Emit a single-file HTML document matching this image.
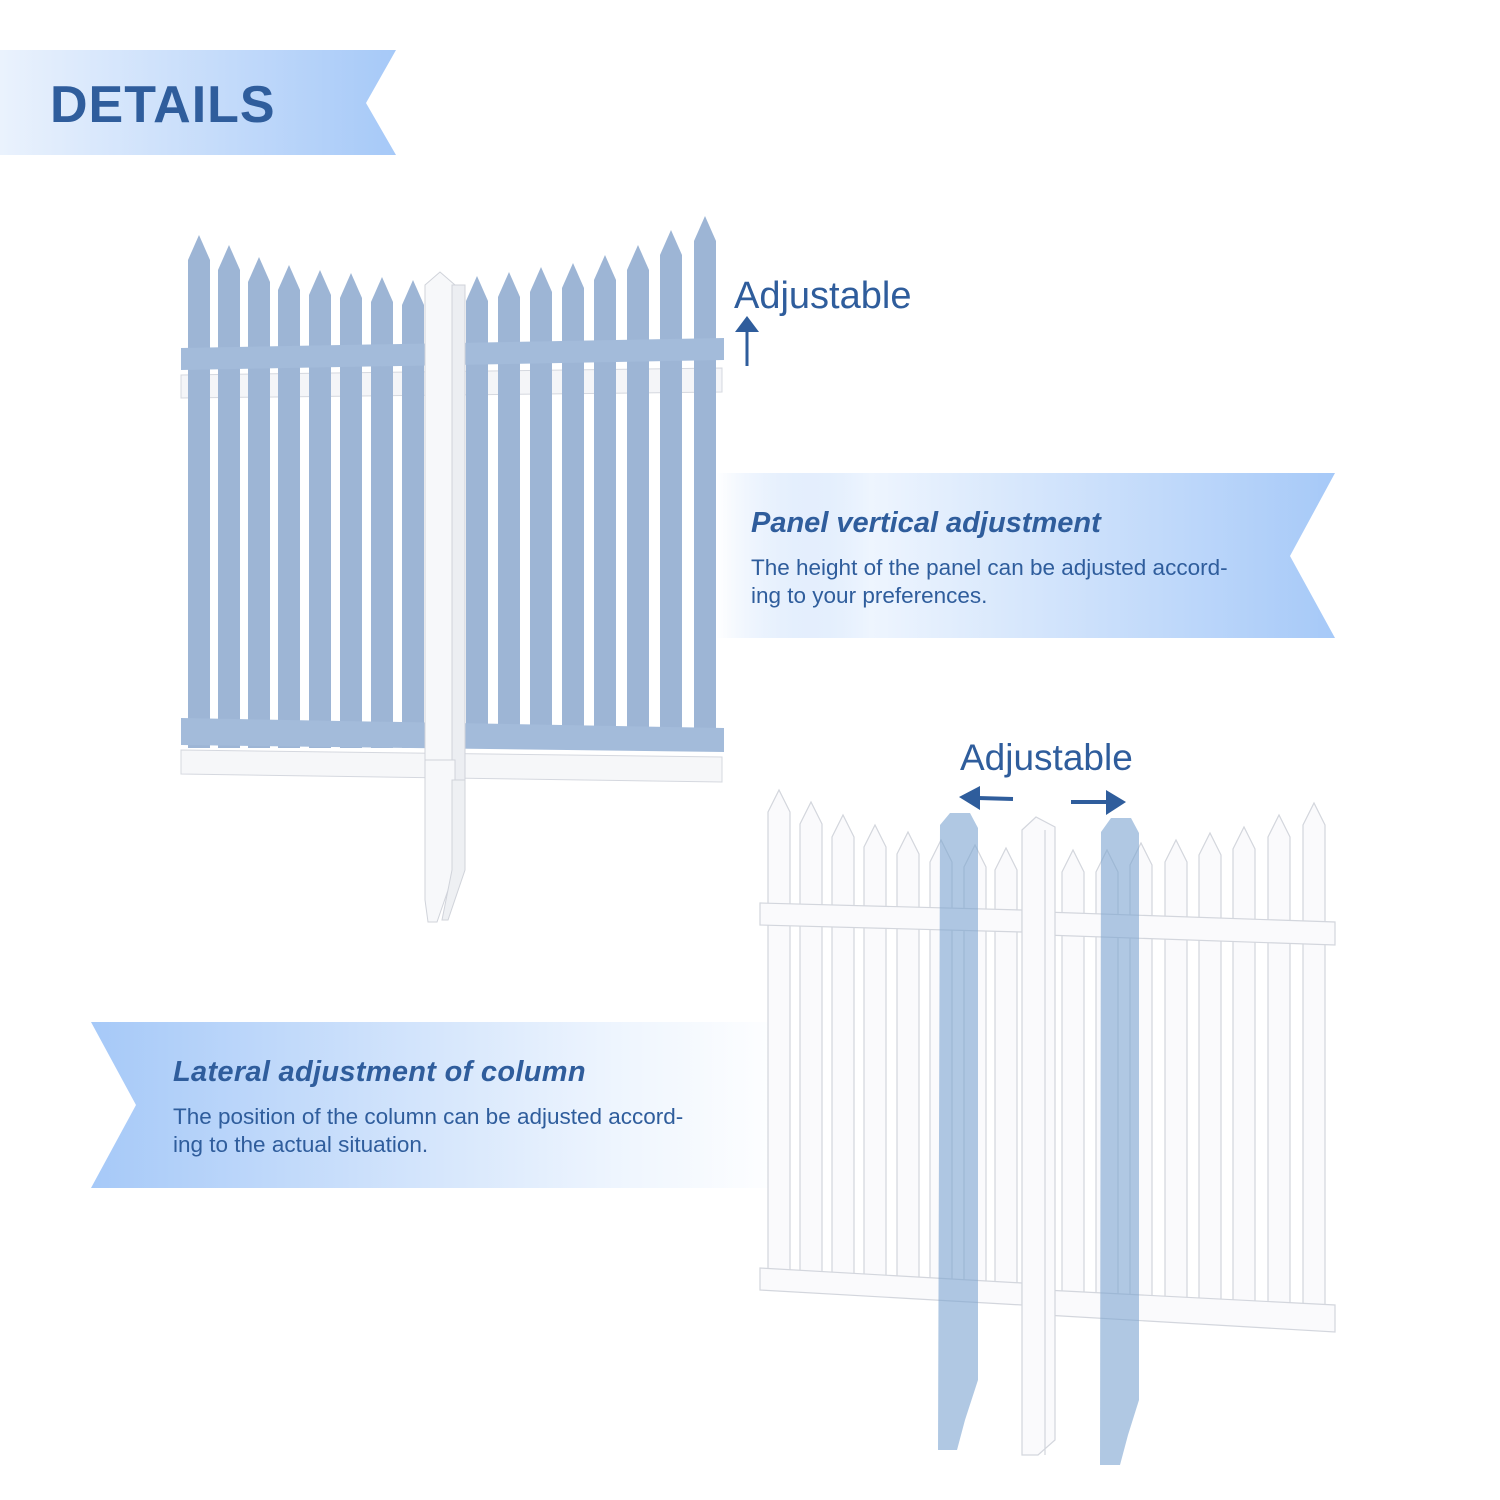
<!DOCTYPE html>
<html><head><meta charset="utf-8"><style>
html,body{margin:0;padding:0;background:#fff;width:1500px;height:1500px;overflow:hidden}
svg{display:block}
text{font-family:"Liberation Sans",sans-serif;fill:#2f5d9c}
</style></head><body>
<svg width="1500" height="1500" viewBox="0 0 1500 1500" xmlns="http://www.w3.org/2000/svg">
<defs>
<linearGradient id="g1" x1="0" x2="1" y1="0" y2="0"><stop offset="0" stop-color="#eaf2fd"/><stop offset="1" stop-color="#a6c9f8"/></linearGradient>
<linearGradient id="g2" x1="0" x2="1"><stop offset="0" stop-color="#a6c9f8" stop-opacity="0"/><stop offset="0.25" stop-color="#eef5fe"/><stop offset="1" stop-color="#a6c9f8"/></linearGradient>
<linearGradient id="g3" x1="0" x2="1"><stop offset="0" stop-color="#a6c9f8"/><stop offset="0.75" stop-color="#eef5fe"/><stop offset="1" stop-color="#eef5fe" stop-opacity="0"/></linearGradient>
</defs>
<polygon points="0,50 396,50 366,103 396,155 0,155" fill="url(#g1)"/>
<text x="50" y="122" font-size="52" font-weight="bold" letter-spacing="1">DETAILS</text>

<polygon points="716,473 1335,473 1290,556 1335,638 716,638" fill="url(#g2)"/>
<polygon points="91,1022 790,1022 790,1188 91,1188 136,1105" fill="url(#g3)"/>

<g>
<polygon points="181,375 722,368 722,392 181,398" fill="#f4f5f8" stroke="#d5d8df"/>
<polygon points="181,750 722,757 722,782 181,774" fill="#f6f7f9" stroke="#d5d8df"/>
<g fill="#9db5d5">
<polygon points="188,260 199,235 210,260 210,748 188,748"/>
<polygon points="218,270 229,245 240,270 240,748 218,748"/>
<polygon points="248,282 259,257 270,282 270,748 248,748"/>
<polygon points="278,290 289,265 300,290 300,748 278,748"/>
<polygon points="309,295 320,270 331,295 331,748 309,748"/>
<polygon points="340,298 351,273 362,298 362,748 340,748"/>
<polygon points="371,302 382,277 393,302 393,748 371,748"/>
<polygon points="402,305 413,280 424,305 424,748 402,748"/>
<polygon points="466,301 477,276 488,301 488,748 466,748"/>
<polygon points="498,297 509,272 520,297 520,748 498,748"/>
<polygon points="530,292 541,267 552,292 552,748 530,748"/>
<polygon points="562,288 573,263 584,288 584,748 562,748"/>
<polygon points="594,280 605,255 616,280 616,748 594,748"/>
<polygon points="627,270 638,245 649,270 649,748 627,748"/>
<polygon points="660,255 671,230 682,255 682,748 660,748"/>
<polygon points="694,241 705,216 716,241 716,748 694,748"/>
</g>
<polygon points="181,348 724,338 724,360 181,370" fill="#a3bbda"/>
<polygon points="181,718 724,728 724,752 181,745" fill="#a3bbda"/>
<polygon points="425,285 440,272 455,285 455,760 425,760" fill="#f7f8fa" stroke="#d0d3da"/>
<rect x="452" y="285" width="13" height="495" fill="#eceef2" stroke="#d0d3da"/>
<polygon points="425,760 455,760 455,870 437,922 428,922 425,900" fill="#f7f8fa" stroke="#d0d3da"/>
<polygon points="452,780 465,780 465,870 448,920 442,920 452,870" fill="#eef0f3" stroke="#d0d3da"/>
</g>
<text x="734" y="308" font-size="38">Adjustable</text>
<line x1="747" y1="366" x2="747" y2="330" stroke="#2f5d9c" stroke-width="3"/>
<polygon points="735,332 747,316 759,332" fill="#2f5d9c"/>

<text x="751" y="532" font-size="29" font-weight="bold" font-style="italic">Panel vertical adjustment</text>
<text x="751" y="575" font-size="22.5">The height of the panel can be adjusted accord-</text>
<text x="751" y="603" font-size="22.5">ing to your preferences.</text>

<text x="173" y="1081" font-size="29" font-weight="bold" font-style="italic" letter-spacing="0.3">Lateral adjustment of column</text>
<text x="173" y="1124" font-size="22.5">The position of the column can be adjusted accord-</text>
<text x="173" y="1152" font-size="22.5">ing to the actual situation.</text>

<g fill="#fafafc" stroke="#d3d6dd" stroke-width="1.2">
<polygon points="768,812 779,790 790,812 790,1290 768,1290"/>
<polygon points="800,824 811,802 822,824 822,1292 800,1292"/>
<polygon points="832,837 843,815 854,837 854,1293 832,1293"/>
<polygon points="864,847 875,825 886,847 886,1295 864,1295"/>
<polygon points="897,854 908,832 919,854 919,1297 897,1297"/>
<polygon points="930,862 941,840 952,862 952,1298 930,1298"/>
<polygon points="964,867 975,845 986,867 986,1300 964,1300"/>
<polygon points="995,870 1006,848 1017,870 1017,1302 995,1302"/>
<polygon points="1062,872 1073,850 1084,872 1084,1310 1062,1310"/>
<polygon points="1096,872 1107,850 1118,872 1118,1310 1096,1310"/>
<polygon points="1130,865 1141,843 1152,865 1152,1312 1130,1312"/>
<polygon points="1165,862 1176,840 1187,862 1187,1313 1165,1313"/>
<polygon points="1199,855 1210,833 1221,855 1221,1315 1199,1315"/>
<polygon points="1233,849 1244,827 1255,849 1255,1317 1233,1317"/>
<polygon points="1268,837 1279,815 1290,837 1290,1319 1268,1319"/>
<polygon points="1303,825 1314,803 1325,825 1325,1321 1303,1321"/>
<polygon points="760,903 1022,910 1022,932 760,925"/>
<polygon points="1045,912 1335,922 1335,945 1045,935"/>
<polygon points="760,1268 1022,1283 1022,1305 760,1290"/>
<polygon points="1045,1290 1335,1305 1335,1332 1045,1315"/>
<polygon points="1022,830 1036,817 1055,827 1055,1440 1038,1455 1022,1455"/>
<line x1="1045" y1="830" x2="1045" y2="1455"/>
</g>
<g fill="#7ba3d0" fill-opacity="0.6">
<polygon points="940,825 950,813 970,813 978,828 978,1380 965,1420 957,1450 938,1450"/>
<polygon points="1101,832 1111,818 1131,818 1139,833 1139,1400 1128,1435 1120,1465 1100,1465"/>
</g>
<text x="960" y="770" font-size="37">Adjustable</text>
<line x1="1013" y1="799" x2="978" y2="798" stroke="#2f5d9c" stroke-width="4"/>
<polygon points="959,797 980,786 980,810" fill="#2f5d9c"/>
<line x1="1071" y1="802" x2="1108" y2="802" stroke="#2f5d9c" stroke-width="4"/>
<polygon points="1126,802 1106,790 1106,815" fill="#2f5d9c"/>
</svg>
</body></html>
